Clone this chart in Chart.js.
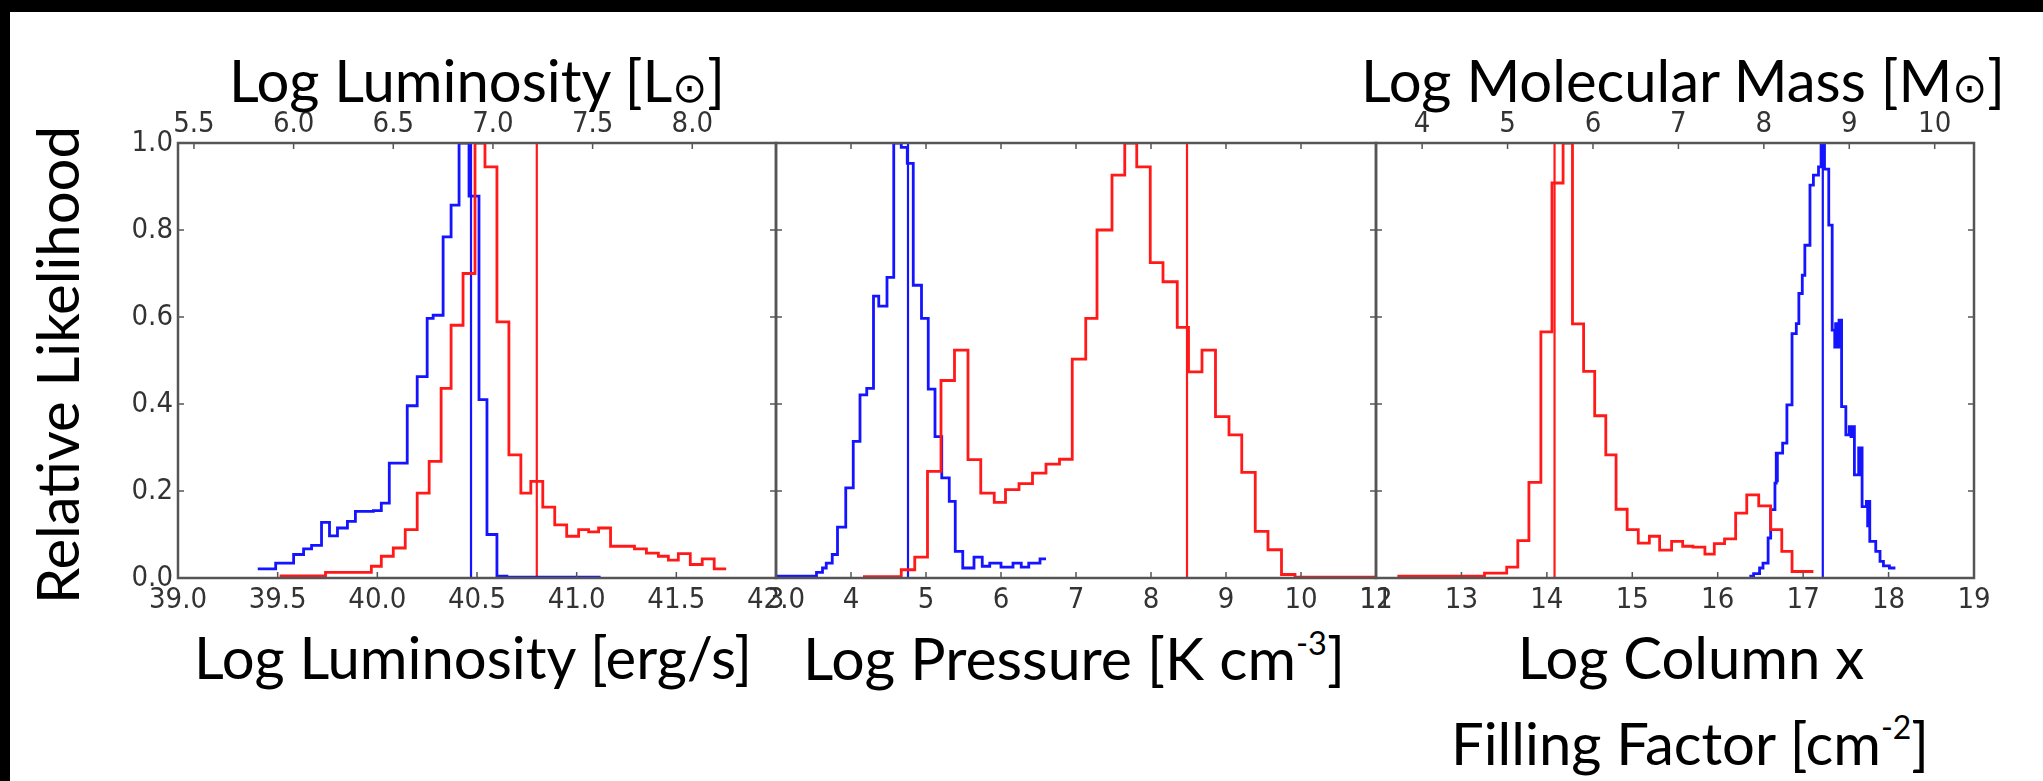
<!DOCTYPE html>
<html>
<head>
<meta charset="utf-8">
<script src="https://cdn.jsdelivr.net/npm/chart.js"></script>
<style>
html,body{margin:0;padding:0;background:#fff;}
#page{position:relative;width:2043px;height:781px;background:#fff;overflow:hidden;}
.band-top{position:absolute;left:0;top:0;width:2043px;height:12px;background:#000;}
.band-left{position:absolute;left:0;top:0;width:10px;height:781px;background:#000;}
canvas{position:absolute;}
.lbl{position:absolute;font-family:Lato,'Open Sans',sans-serif;font-size:58px;color:#000;white-space:nowrap;transform:translate(-50%,-50%);line-height:1;}
.sun{font-family:'DejaVu Sans',sans-serif;font-size:0.72em;}
.sup{font-size:0.55em;vertical-align:0.8em;}
</style>
</head>
<body>
<div id="page">
  <div class="band-top"></div>
  <div class="band-left"></div>
  <canvas id="c1" width="698" height="520" style="left:118px;top:100px"></canvas>
  <canvas id="c2" width="700" height="520" style="left:716px;top:100px"></canvas>
  <canvas id="c3" width="698" height="520" style="left:1316px;top:100px"></canvas>

  <div class="lbl" style="left:477px;top:80px">Log Luminosity [L<span class="sun">⊙</span>]</div>
  <div class="lbl" style="left:1683px;top:80px">Log Molecular Mass [M<span class="sun">⊙</span>]</div>
  <div class="lbl" style="left:473px;top:657px">Log Luminosity [erg/s]</div>
  <div class="lbl" style="left:1074px;top:657px;font-size:59px">Log Pressure [K cm<span class="sup">-3</span>]</div>
  <div class="lbl" style="left:1691px;top:657px">Log Column x</div>
  <div class="lbl" style="left:1690px;top:742px">Filling Factor [cm<span class="sup">-2</span>]</div>
  <div class="lbl" style="left:57px;top:365px;transform:translate(-50%,-50%) rotate(-90deg)">Relative Likelihood</div>
</div>
<script>
// histogram bin edges + heights
var lumBlueEdges = [39.40,39.49,39.58,39.63,39.67,39.72,39.76,39.80,39.85,39.89,39.98,40.02,40.06,40.15,40.20,40.25,40.28,40.33,40.37,40.41,40.46,40.51,40.55,40.60,40.65,41.12];
var lumBlueHeights = [0.021,0.034,0.054,0.067,0.075,0.128,0.097,0.115,0.13,0.153,0.155,0.172,0.264,0.396,0.463,0.597,0.604,0.784,0.857,1.0,0.878,0.41,0.10,0.004,0.002];
var lumRedEdges = [39.51,39.74,39.97,40.02,40.08,40.14,40.20,40.26,40.32,40.37,40.43,40.49,40.54,40.60,40.66,40.72,40.77,40.83,40.89,40.95,41.01,41.06,41.11,41.17,41.29,41.35,41.41,41.46,41.51,41.57,41.63,41.69,41.75];
var lumRedHeights = [0.005,0.013,0.027,0.05,0.069,0.111,0.195,0.268,0.436,0.581,0.70,1.0,0.945,0.589,0.283,0.195,0.222,0.163,0.122,0.096,0.111,0.106,0.115,0.073,0.067,0.057,0.05,0.041,0.056,0.031,0.044,0.021];
var lumBlueLine = 40.47;
var lumRedLine = 40.80;

var presBlueEdges = [3.00,3.54,3.62,3.67,3.75,3.82,3.93,4.03,4.12,4.21,4.30,4.37,4.48,4.57,4.67,4.75,4.83,4.94,5.03,5.12,5.21,5.31,5.39,5.49,5.64,5.75,5.85,6.00,6.16,6.27,6.37,6.52,6.60];
var presBlueHeights = [0.004,0.013,0.023,0.034,0.054,0.117,0.207,0.314,0.421,0.436,0.648,0.625,0.691,1.0,0.99,0.953,0.673,0.597,0.434,0.325,0.23,0.176,0.061,0.023,0.048,0.027,0.034,0.025,0.034,0.025,0.034,0.044];
var presRedEdges = [4.16,4.67,4.85,5.02,5.20,5.38,5.56,5.73,5.91,6.06,6.24,6.42,6.60,6.78,6.95,7.13,7.28,7.48,7.65,7.81,7.99,8.16,8.35,8.50,8.68,8.86,9.04,9.21,9.39,9.56,9.74,9.92,11.0];
var presRedHeights = [0.003,0.019,0.048,0.245,0.454,0.524,0.272,0.195,0.174,0.203,0.217,0.241,0.262,0.273,0.503,0.597,0.80,0.926,1.0,0.945,0.725,0.681,0.576,0.474,0.524,0.371,0.329,0.243,0.107,0.065,0.008,0.002];
var presBlueLine = 4.76;
var presRedLine = 8.48;

var colBlueEdges = [16.37,16.42,16.49,16.53,16.59,16.62,16.67,16.685,16.695,16.70,16.76,16.81,16.87,16.92,16.95,16.99,17.02,17.08,17.12,17.18,17.21,17.25,17.30,17.34,17.37,17.38,17.39,17.42,17.45,17.50,17.54,17.56,17.57,17.60,17.65,17.665,17.675,17.69,17.74,17.755,17.765,17.78,17.85,17.90,17.94,18.01,18.08];
var colBlueHeights = [0.004,0.01,0.023,0.034,0.092,0.157,0.218,0.287,0.22,0.287,0.31,0.398,0.562,0.585,0.654,0.696,0.765,0.903,0.926,0.945,1.0,0.94,0.811,0.57,0.531,0.585,0.531,0.593,0.394,0.329,0.348,0.325,0.348,0.237,0.299,0.237,0.299,0.164,0.176,0.12,0.176,0.084,0.061,0.038,0.028,0.023];
var colRedEdges = [12.25,13.27,13.53,13.66,13.79,13.93,14.06,14.19,14.30,14.43,14.56,14.69,14.81,14.94,15.07,15.20,15.32,15.46,15.59,15.71,15.85,15.96,16.08,16.21,16.34,16.48,16.62,16.75,16.87,17.12];
var colRedHeights = [0.004,0.011,0.025,0.086,0.22,0.566,0.908,1.0,0.584,0.475,0.373,0.283,0.158,0.111,0.08,0.096,0.064,0.084,0.073,0.071,0.055,0.079,0.09,0.149,0.191,0.166,0.111,0.061,0.015];
var colBlueLine = 17.23;
var colRedLine = 14.09;

// tick values
var yTicks = [0.0,0.2,0.4,0.6,0.8,1.0];
var lumTicks = [39.0,39.5,40.0,40.5,41.0,41.5,42.0];
var lumSunTicks = [5.5,6.0,6.5,7.0,7.5,8.0];
var presTicks = [3,4,5,6,7,8,9,10,11];
var colTicks = [12,13,14,15,16,17,18,19];
var massTicks = [4,5,6,7,8,9,10];

var LOG_LSUN = 33.58;   // erg/s -> Lsun
var COL_TO_MASS = 8.54; // column axis -> mass axis offset

var BLUE = 'rgb(20,20,255)';
var RED = 'rgb(255,25,25)';
var tickFont = {family:"'DejaVu Sans Condensed','DejaVu Sans',sans-serif", size:29};
var tickColor = '#333';

function steps(edges, heights){
  var pts = [];
  for (var i = 0; i < heights.length; i++){
    pts.push({x:edges[i], y:heights[i]});
    pts.push({x:edges[i+1], y:heights[i]});
  }
  return pts;
}
function vline(x){ return [{x:x,y:0},{x:x,y:1}]; }

// matplotlib style box + inward ticks
var framePlugin = {
  id:'frame',
  afterDraw:function(chart){
    var a = chart.chartArea, ctx = chart.ctx, s = chart.scales, L = 6;
    ctx.save();
    ctx.strokeStyle = '#555'; ctx.lineWidth = 1.5;
    ctx.beginPath();
    s.x.ticks.forEach(function(t){ var p = s.x.getPixelForValue(t.value); ctx.moveTo(p,a.bottom); ctx.lineTo(p,a.bottom-L); });
    s.x2.ticks.forEach(function(t){ var p = s.x2.getPixelForValue(t.value); ctx.moveTo(p,a.top); ctx.lineTo(p,a.top+L); });
    s.y.ticks.forEach(function(t){ var p = s.y.getPixelForValue(t.value); ctx.moveTo(a.left,p); ctx.lineTo(a.left+L,p); ctx.moveTo(a.right,p); ctx.lineTo(a.right-L,p); });
    ctx.stroke();
    ctx.lineWidth = 2.5;
    ctx.strokeRect(a.left, a.top, a.right-a.left, a.bottom-a.top);
    ctx.restore();
  }
};

function panel(id, o){
  return new Chart(document.getElementById(id), {
    type:'line',
    data:{datasets:[
      {data:steps(o.redEdges,o.redHeights), borderColor:RED, borderWidth:2.8},
      {data:steps(o.blueEdges,o.blueHeights), borderColor:BLUE, borderWidth:2.8},
      {data:vline(o.redLine), borderColor:RED, borderWidth:2.2},
      {data:vline(o.blueLine), borderColor:BLUE, borderWidth:2.2}
    ]},
    options:{
      responsive:false, animation:false, devicePixelRatio:1,
      elements:{point:{radius:0}, line:{tension:0, fill:false}},
      plugins:{legend:{display:false}, tooltip:{enabled:false}},
      layout:{padding:{left:0, right:40, top:0, bottom:0}},
      scales:{
        x:{type:'linear', position:'bottom', min:o.min, max:o.max,
          afterBuildTicks:function(sc){ sc.ticks = o.ticks.map(function(v){return {value:v};}); },
          afterFit:function(sc){ sc.height = 42; },
          grid:{display:false, drawTicks:false}, border:{display:false},
          ticks:{font:tickFont, color:tickColor, padding:5, maxRotation:0, autoSkip:false,
            callback:function(v){ return v.toFixed(o.dec); }}},
        x2:{type:'linear', position:'top', min:o.min-o.topOff, max:o.max-o.topOff,
          afterBuildTicks:function(sc){ sc.ticks = o.topTicks.map(function(v){return {value:v};}); },
          afterFit:function(sc){ sc.height = 43; },
          grid:{display:false, drawTicks:false}, border:{display:false},
          ticks:{display:o.topLabels, font:tickFont, color:tickColor, padding:1, maxRotation:0, autoSkip:false,
            callback:function(v){ return v.toFixed(o.topDec); }}},
        y:{type:'linear', min:0, max:1,
          afterBuildTicks:function(sc){ sc.ticks = yTicks.map(function(v){return {value:v};}); },
          afterFit:function(sc){ sc.width = 60; },
          grid:{display:false, drawTicks:false}, border:{display:false},
          ticks:{display:o.yLabels, font:tickFont, color:tickColor, padding:5,
            callback:function(v){ return v.toFixed(1); }}}
      }
    },
    plugins:[framePlugin]
  });
}

panel('c1', {min:39, max:42, ticks:lumTicks, dec:1, topOff:LOG_LSUN, topTicks:lumSunTicks, topDec:1, topLabels:true, yLabels:true,
  blueEdges:lumBlueEdges, blueHeights:lumBlueHeights, redEdges:lumRedEdges, redHeights:lumRedHeights, blueLine:lumBlueLine, redLine:lumRedLine});
panel('c2', {min:3, max:11, ticks:presTicks, dec:0, topOff:0, topTicks:presTicks, topDec:0, topLabels:false, yLabels:false,
  blueEdges:presBlueEdges, blueHeights:presBlueHeights, redEdges:presRedEdges, redHeights:presRedHeights, blueLine:presBlueLine, redLine:presRedLine});
panel('c3', {min:12, max:19, ticks:colTicks, dec:0, topOff:COL_TO_MASS, topTicks:massTicks, topDec:0, topLabels:true, yLabels:false,
  blueEdges:colBlueEdges, blueHeights:colBlueHeights, redEdges:colRedEdges, redHeights:colRedHeights, blueLine:colBlueLine, redLine:colRedLine});
</script>
</body>
</html>
